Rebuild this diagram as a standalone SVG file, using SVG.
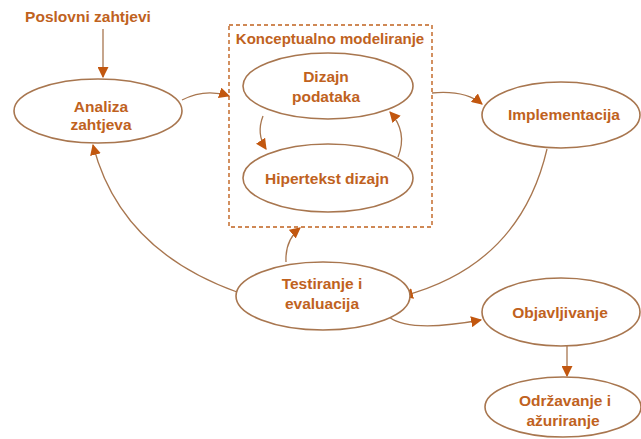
<svg xmlns="http://www.w3.org/2000/svg" width="641" height="439" viewBox="0 0 641 439">
<defs>
<marker id="ah" viewBox="0 0 10 10" refX="9" refY="5" markerWidth="11" markerHeight="11" markerUnits="userSpaceOnUse" orient="auto">
<path d="M0,0 L10,5 L0,10 z" fill="#c2570f"/>
</marker>
<style>
.n{fill:#fff;stroke:#a8764f;stroke-width:1.6}
.t{font-family:"Liberation Sans",Arial,sans-serif;font-weight:bold;font-size:15.5px;fill:#c0621e;text-anchor:middle}
.c{fill:none;stroke:#a8764f;stroke-width:1.3;marker-end:url(#ah)}
.box{fill:none;stroke:#c0621e;stroke-width:1.4;stroke-dasharray:4 3}
</style>
</defs>
<rect width="641" height="439" fill="#fff"/>
<g id="konceptualno">
<rect class="box" x="229" y="25" width="203" height="202"/>
<text class="t" x="330" y="44" style="font-size:15px">Konceptualno modeliranje</text>
</g>
<g id="edges">
<path class="c" d="M103,29 L103,77"/>
<path class="c" d="M182,100 Q205,88 229,96"/>
<path class="c" d="M263,116 Q256,134 266,149"/>
<path class="c" d="M398,157 Q408,132 390,112"/>
<path class="c" d="M432,93 Q465,90 482,104"/>
<path class="c" d="M547,149 Q520,265 403,296"/>
<path class="c" d="M389,317 Q410,333 481,320"/>
<path class="c" d="M567,345 L567,376"/>
<path class="c" d="M286,262 Q285,240 300,228"/>
<path class="c" d="M237,292 Q120,250 93,145"/>
</g>
<text class="t" x="88" y="22">Poslovni zahtjevi</text>
<g id="analiza">
<ellipse class="n" cx="98" cy="111" rx="84" ry="32"/>
<text class="t" x="101" y="112">Analiza</text>
<text class="t" x="101" y="130">zahtjeva</text>
</g>
<g id="dizajn">
<ellipse class="n" cx="328" cy="86" rx="85" ry="33"/>
<text class="t" x="326" y="82">Dizajn</text>
<text class="t" x="326" y="102">podataka</text>
</g>
<g id="hipertekst">
<ellipse class="n" cx="328" cy="178" rx="85" ry="34"/>
<text class="t" x="327" y="184">Hipertekst dizajn</text>
</g>
<g id="implementacija">
<ellipse class="n" cx="561" cy="115" rx="79" ry="33"/>
<text class="t" x="564" y="120">Implementacija</text>
</g>
<g id="testiranje">
<ellipse class="n" cx="323" cy="296" rx="87" ry="34"/>
<text class="t" x="322" y="289">Testiranje i</text>
<text class="t" x="322" y="309">evaluacija</text>
</g>
<g id="objavljivanje">
<ellipse class="n" cx="561" cy="312" rx="79" ry="34"/>
<text class="t" x="560" y="318">Objavljivanje</text>
</g>
<g id="odrzavanje">
<ellipse class="n" cx="563" cy="407" rx="78" ry="30"/>
<text class="t" x="565" y="406">Održavanje i</text>
<text class="t" x="563" y="426">ažuriranje</text>
</g>
</svg>
